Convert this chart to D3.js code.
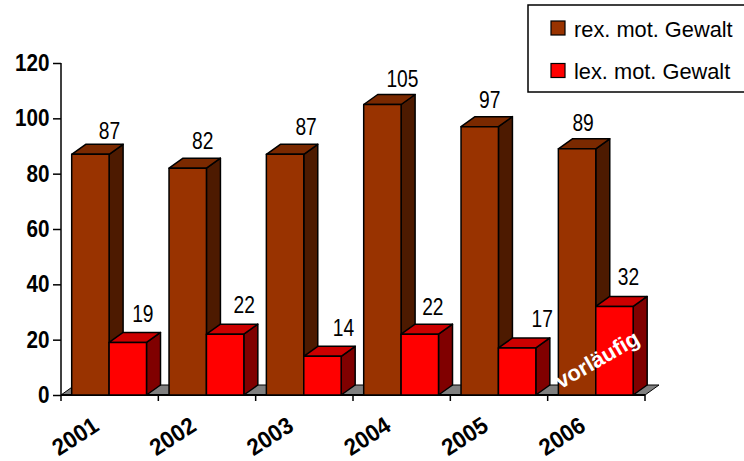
<!DOCTYPE html>
<html><head><meta charset="utf-8">
<script src="https://cdn.jsdelivr.net/npm/d3@7"></script>
<style>html,body{margin:0;padding:0;background:#fff}svg{display:block}
text{font-family:"Liberation Sans",Arial,sans-serif;fill:#000}</style></head><body>
<svg id="c" width="744" height="461"></svg>
<script>
const categories = ["2001","2002","2003","2004","2005","2006"];
const seriesNames = ["rex. mot. Gewalt","lex. mot. Gewalt"];
const rexValues = [87,82,87,105,97,89];
const lexValues = [19,22,14,22,17,32];
const yTicks = [0,20,40,60,80,100,120];
const frontColors = ["#993300","#ff0000"];
const topColors = ["#7a2900","#cc0000"];
const sideColors = ["#4d1a00","#800000"];
// hand-placed label nudges of the original chart
const rexNudge = [[2,-14.3],[-2,-18],[4,-18],[3,-16.5],[-7,-17.6],[-11,-15.8]];
const lexNudge = [[-2,-19],[2,-20],[4,-19],[-4,-18],[8,-19],[-3,-19.5]];
const svg = d3.select("#c");
const dx = 14, dy = -10;
const x = d3.scaleBand().domain(categories).range([61,645]);
const y = d3.scaleLinear().domain([0,120]).range([395,63]);
const barW = 37.4, inset = 10.7;
const poly = (pts,fill,sw=1.5)=>svg.append("polygon").attr("points",pts.map(p=>p.join(",")).join(" "))
  .attr("fill",fill).attr("stroke","#000").attr("stroke-width",sw).attr("stroke-linejoin","round");
poly([[x.range()[0],y(0)],[x.range()[0]+dx,y(0)+dy],[x.range()[1]+dx,y(0)+dy],[x.range()[1],y(0)]],"#808080",1);
const yAxis = d3.axisLeft(y).tickValues(yTicks).tickSize(8);
const gy = svg.append("g").attr("transform","translate(61,0)").call(yAxis);
gy.selectAll("path,line").attr("stroke","#000").attr("stroke-width",1.5);
gy.select(".domain").attr("d",`M0,${y(120)}V${y(0)}`);
gy.selectAll("text").attr("x",0).attr("text-anchor","end").attr("dy",null).attr("y",7.5)
  .attr("font-size",23.5).attr("font-weight","bold").attr("transform","translate(-11.5,0) scale(.88,1)");
const gx = svg.append("g").attr("transform",`translate(0,${y(0)})`).call(d3.axisBottom(x).tickFormat("").tickSize(0));
gx.select(".domain").attr("d",`M61,0H645`).attr("stroke","#000").attr("stroke-width",2);
const edges = categories.map(c=>x(c)).concat([x.range()[1]]);
svg.append("g").selectAll("line").data(edges).join("line")
  .attr("x1",d=>d).attr("x2",d=>d).attr("y1",y(0)).attr("y2",y(0)+6).attr("stroke","#000").attr("stroke-width",1.5);
function bar(x0,v,i){
  const t=y(v),b=y(0),r=x0+barW;
  poly([[r,t],[r+dx,t+dy],[r+dx,b+dy],[r,b]],sideColors[i]);
  poly([[x0,t],[x0+dx,t+dy],[r+dx,t+dy],[r,t]],topColors[i]);
  poly([[x0,t],[r,t],[r,b],[x0,b]],frontColors[i]);
}
categories.forEach((c,k)=>{
  const x0 = x(c)+inset;
  bar(x0,rexValues[k],0);
  bar(x0+barW,lexValues[k],1);
});
const labels=(vals,off,nudge)=>svg.append("g").selectAll("text").data(vals).join("text")
  .attr("transform",(d,i)=>`translate(${x(categories[i])+inset+off+barW/2+dx+3+nudge[i][0]},${y(d)+dy+nudge[i][1]+8.5}) scale(.8,1)`)
  .attr("text-anchor","middle").attr("font-size",24).text(d=>d);
labels(rexValues,0,rexNudge); labels(lexValues,barW,lexNudge);
svg.append("g").selectAll("text").data(categories).join("text")
  .attr("text-anchor","middle").attr("font-size",23.5).attr("font-weight","bold")
  .attr("transform",c=>`translate(${x(c)+x.bandwidth()/2-30},${443}) rotate(-33) scale(.95,1)`).text(c=>c);
svg.append("text").attr("text-anchor","middle").attr("font-size",22).attr("font-weight","bold")
  .style("fill","#fff").attr("transform","translate(601,366) rotate(-30)").text("vorläufig");
svg.append("rect").attr("x",528).attr("y",5).attr("width",230).attr("height",87).attr("fill","#fff").attr("stroke","#000").attr("stroke-width",1.5);
seriesNames.forEach((n,i)=>{
  const cy=[28,70.5][i];
  svg.append("rect").attr("x",551).attr("y",cy-7).attr("width",14).attr("height",14).attr("fill",frontColors[i]).attr("stroke","#000").attr("stroke-width",1.2);
  svg.append("text").attr("x",574).attr("y",cy+8.5).attr("font-size",21.8).text(n);
});
</script></body></html>
